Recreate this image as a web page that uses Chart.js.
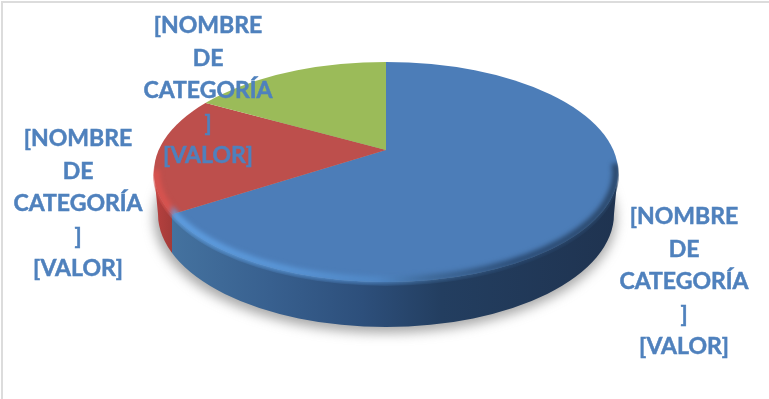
<!DOCTYPE html>
<html lang="es">
<head>
<meta charset="utf-8">
<title>Gráfico circular</title>
<script src="https://cdn.jsdelivr.net/npm/chart.js@4"></script>
<style>
  html, body { margin: 0; padding: 0; background: #fff; overflow: hidden; }
  canvas { display: block; }
</style>
</head>
<body>
<canvas id="pie" width="769" height="399"></canvas>
<script>
// Series shown by the pie
const categories = ['Azul', 'Rojo', 'Verde'];
const sliceValues = [66, 17, 17];
const sliceColors = ['#4c7db8', '#bd4f4c', '#9bbb59'];
const labelLines = ['[NOMBRE', 'DE', 'CATEGORÍA', ']', '[VALOR]'];

// Label block anchors: centre x and first-line centre y
const labelAnchors = [
  { x: 684, y: 217 },
  { x: 78, y: 139 },
  { x: 208, y: 26 }
];
const labelLineHeight = 32.4;

// Tilted disc geometry
const disc = {
  cx: 386, cy: 172, rx: 232, ry: 110,   // top face ellipse
  apexLift: 22,                         // pie centre sits above the ellipse centre
  baseCx: 386, baseCy: 214, baseRx: 228, baseRy: 113   // bottom edge ellipse
};

function ellipsePath(ctx, cx, cy, rx, ry) {
  ctx.beginPath();
  ctx.ellipse(cx, cy, rx, ry, 0, 0, Math.PI * 2);
}

// x where the first slice's trailing edge meets the front of the rim
function rimSplitX(angle) {
  const dx = Math.cos(angle), dy = Math.sin(angle);
  const d = -disc.apexLift / disc.ry;
  const b = d * dy;
  const t = -b + Math.sqrt(b * b - (d * d - 1));
  return disc.cx + disc.rx * t * dx;
}

function stops(ctx, x0, x1, list) {
  const g = ctx.createLinearGradient(x0, 0, x1, 0);
  list.forEach(([p, c]) => g.addColorStop(Math.min(1, Math.max(0, p)), c));
  return g;
}

const frame = {
  id: 'frame',
  beforeDraw(chart) {
    const ctx = chart.ctx;
    ctx.save();
    ctx.fillStyle = '#dcdcdc';
    ctx.fillRect(1, 1, chart.width - 1, 2);
    ctx.fillRect(1, 1, 2, chart.height - 1);
    ctx.restore();
  }
};

const tiltedDisc = {
  id: 'tiltedDisc',
  beforeDatasetsDraw(chart) {
    const ctx = chart.ctx;
    const arcs = chart.getDatasetMeta(0).data;
    const first = arcs[0];
    const left = disc.cx - disc.rx, right = disc.cx + disc.rx;
    const split = (rimSplitX(first.endAngle) - left) / (right - left);
    chart.$rimSplit = split;

    // Soft ground shadow
    ctx.save();
    ctx.filter = 'blur(6px)';
    ctx.fillStyle = 'rgba(110,110,110,0.6)';
    ellipsePath(ctx, disc.baseCx - 1, disc.baseCy + 4, disc.baseRx + 3, disc.baseRy + 2);
    ctx.fill();
    ctx.restore();

    // Side wall, split at the slice boundary
    ctx.save();
    ctx.beginPath();
    ctx.ellipse(disc.baseCx, disc.baseCy, disc.baseRx, disc.baseRy, 0, 0, Math.PI);
    ctx.lineTo(left, disc.cy);
    ctx.ellipse(disc.cx, disc.cy, disc.rx, disc.ry, 0, Math.PI, 0, true);
    ctx.closePath();
    ctx.fillStyle = stops(ctx, left, right, [
      [0, '#b8413f'], [split, '#a33b39'], [split + 0.001, '#44729f'],
      [0.25, '#38608f'], [0.45, '#2d4f7b'], [0.62, '#233e60'], [1, '#1f3350']
    ]);
    ctx.fill();
    ctx.restore();

    // Squash the library's pie onto the top face
    ctx.save();
    ellipsePath(ctx, disc.cx, disc.cy, disc.rx, disc.ry);
    ctx.clip();
    const reach = 300 / first.outerRadius;
    ctx.translate(disc.cx, disc.cy - disc.apexLift);
    ctx.scale(reach, reach * disc.ry / disc.rx);
    ctx.translate(-first.x, -first.y);
  },
  afterDatasetsDraw(chart) {
    const ctx = chart.ctx;
    ctx.restore();

    // Bevel along the front of the top face
    const left = disc.cx - disc.rx, right = disc.cx + disc.rx;
    const split = chart.$rimSplit;
    ctx.save();
    ellipsePath(ctx, disc.cx, disc.cy + 3, disc.rx + 1, disc.ry + 1);
    ctx.clip();
    ctx.filter = 'blur(2.5px)';
    ctx.lineWidth = 7;
    ctx.strokeStyle = stops(ctx, left, right, [
      [0, '#d9534f'], [split, '#d9534f'], [split + 0.001, '#5f9fe2'],
      [0.28, '#5a97d8'], [0.48, '#5088c6'], [0.6, '#3d6796'],
      [0.78, '#2a4a72'], [1, '#2a4668']
    ]);
    ctx.beginPath();
    ctx.ellipse(disc.cx, disc.cy, disc.rx - 2, disc.ry - 2, 0, -0.08, Math.PI + 0.02);
    ctx.stroke();
    ctx.restore();
  },
  afterDraw(chart) {
    const ctx = chart.ctx;
    ctx.save();
    ctx.font = 'bold 23px Lato, "Open Sans", sans-serif';
    ctx.fillStyle = '#4f81bd';
    ctx.strokeStyle = '#4f81bd';
    ctx.lineWidth = 0.5;
    ctx.textAlign = 'center';
    ctx.textBaseline = 'middle';
    labelAnchors.forEach(a => {
      labelLines.forEach((line, i) => {
        ctx.fillText(line, a.x, a.y + i * labelLineHeight);
        ctx.strokeText(line, a.x, a.y + i * labelLineHeight);
      });
    });
    ctx.restore();
  }
};

new Chart(document.getElementById('pie'), {
  type: 'pie',
  data: {
    labels: categories,
    datasets: [{
      data: sliceValues,
      backgroundColor: sliceColors,
      borderWidth: 0,
      clip: false
    }]
  },
  options: {
    responsive: false,
    animation: false,
    layout: { padding: 0 },
    plugins: { legend: { display: false }, tooltip: { enabled: false }, title: { display: false } }
  },
  plugins: [frame, tiltedDisc]
});
</script>
</body>
</html>
